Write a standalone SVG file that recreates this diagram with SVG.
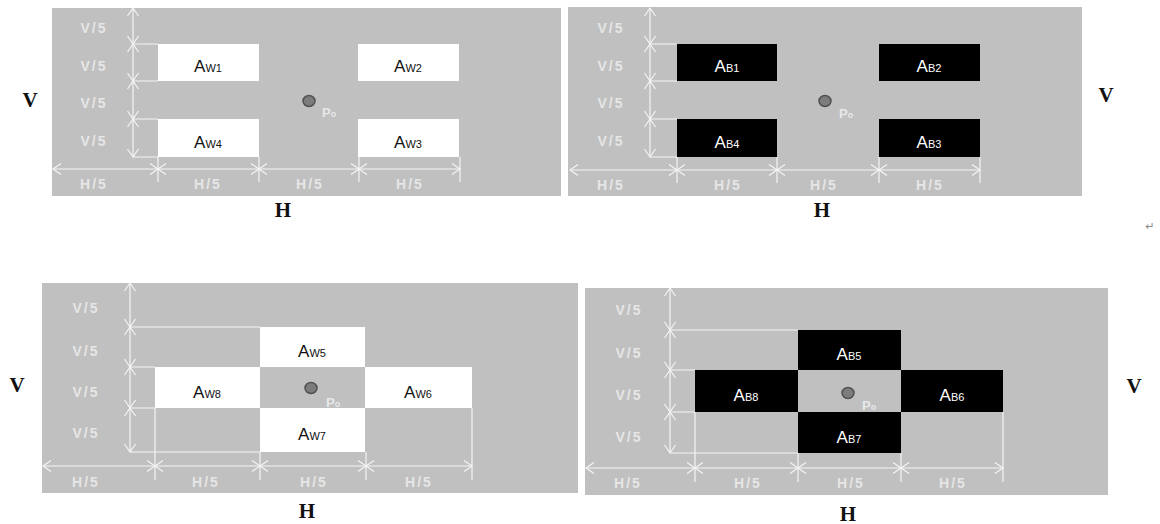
<svg xmlns="http://www.w3.org/2000/svg" width="1160" height="524" viewBox="0 0 1160 524">
<style>
.bg{fill:#c0c0c0}
.w{fill:#ffffff}
.b{fill:#000000}
.dl{stroke:#f4f4f4;stroke-width:1.2;fill:none}
.dim{font-family:"Liberation Sans",Arial,sans-serif;font-size:14px;font-weight:bold;fill:#e6e6e6;letter-spacing:2px;text-anchor:middle}
.lab{font-family:"Liberation Sans",Arial,sans-serif;font-size:17px;text-anchor:middle}
.lab tspan.s{font-size:11px}
.lw{fill:#111}
.lb{fill:#fff}
.po{font-family:"Liberation Sans",Arial,sans-serif;font-size:13px;font-weight:bold;fill:#e8e8e8}
.big{font-family:"Liberation Serif","Times New Roman",serif;font-size:21px;font-weight:bold;fill:#111;text-anchor:middle}
.pt{fill:#7c7c7c;stroke:#505050;stroke-width:1.5}
</style>
<defs>
<marker id="ar" markerUnits="userSpaceOnUse" markerWidth="12" markerHeight="14" viewBox="-10 -7 12 14" refX="0" refY="0" orient="auto-start-reverse">
<path d="M-8,-5.5 L0,0 L-8,5.5" fill="none" stroke="#f4f4f4" stroke-width="1.2"/>
</marker>
</defs>

<!-- panel backgrounds -->
<rect class="bg" x="52" y="8" width="509" height="188"/>
<rect class="bg" x="568" y="7" width="514" height="189"/>
<rect class="bg" x="42" y="283" width="536" height="210"/>
<rect class="bg" x="585" y="288" width="523" height="207"/>

<!-- panel 1 nodes -->
<g id="AW1"><rect class="w" x="158" y="44" width="101" height="37"/><text class="lab lw" x="208" y="72">A<tspan class="s">W1</tspan></text></g>
<g id="AW2"><rect class="w" x="358" y="44" width="101" height="37"/><text class="lab lw" x="408" y="72">A<tspan class="s">W2</tspan></text></g>
<g id="AW3"><rect class="w" x="358" y="119" width="101" height="38"/><text class="lab lw" x="408" y="148">A<tspan class="s">W3</tspan></text></g>
<g id="AW4"><rect class="w" x="158" y="119" width="101" height="38"/><text class="lab lw" x="208" y="148">A<tspan class="s">W4</tspan></text></g>
<g id="P0a"><ellipse class="pt" cx="309" cy="101" rx="6" ry="5.5"/><text class="po" x="322" y="117">P<tspan font-size="9">o</tspan></text></g>

<!-- panel 2 nodes -->
<g id="AB1"><rect class="b" x="677" y="44" width="100" height="37"/><text class="lab lb" x="727" y="72">A<tspan class="s">B1</tspan></text></g>
<g id="AB2"><rect class="b" x="879" y="44" width="101" height="37"/><text class="lab lb" x="929" y="72">A<tspan class="s">B2</tspan></text></g>
<g id="AB3"><rect class="b" x="879" y="119" width="101" height="38"/><text class="lab lb" x="929" y="148">A<tspan class="s">B3</tspan></text></g>
<g id="AB4"><rect class="b" x="677" y="119" width="100" height="38"/><text class="lab lb" x="727" y="148">A<tspan class="s">B4</tspan></text></g>
<g id="P0b"><ellipse class="pt" cx="825" cy="101" rx="6" ry="5.5"/><text class="po" x="839" y="118">P<tspan font-size="9">o</tspan></text></g>

<!-- panel 3 nodes -->
<g id="AW5"><rect class="w" x="260" y="327" width="105" height="40"/><text class="lab lw" x="312" y="357">A<tspan class="s">W5</tspan></text></g>
<g id="AW6"><rect class="w" x="365" y="367" width="107" height="41"/><text class="lab lw" x="418" y="398">A<tspan class="s">W6</tspan></text></g>
<g id="AW7"><rect class="w" x="260" y="408" width="105" height="44"/><text class="lab lw" x="312" y="440">A<tspan class="s">W7</tspan></text></g>
<g id="AW8"><rect class="w" x="155" y="367" width="105" height="41"/><text class="lab lw" x="207" y="398">A<tspan class="s">W8</tspan></text></g>
<g id="P0c"><ellipse class="pt" cx="311" cy="388" rx="6" ry="5.5"/><text class="po" x="326" y="407">P<tspan font-size="9">o</tspan></text></g>

<!-- panel 4 nodes -->
<g id="AB5"><rect class="b" x="798" y="330" width="103" height="40"/><text class="lab lb" x="849" y="360">A<tspan class="s">B5</tspan></text></g>
<g id="AB6"><rect class="b" x="901" y="370" width="102" height="42"/><text class="lab lb" x="952" y="401">A<tspan class="s">B6</tspan></text></g>
<g id="AB7"><rect class="b" x="798" y="412" width="103" height="41"/><text class="lab lb" x="849" y="443">A<tspan class="s">B7</tspan></text></g>
<g id="AB8"><rect class="b" x="695" y="370" width="103" height="42"/><text class="lab lb" x="746" y="401">A<tspan class="s">B8</tspan></text></g>
<g id="P0d"><ellipse class="pt" cx="848" cy="393" rx="6" ry="5.5"/><text class="po" x="862" y="410">P<tspan font-size="9">o</tspan></text></g>

<!-- connectors: dimension lines -->
<g id="connectors" class="dl">
<!-- panel 1 -->
<g marker-start="url(#ar)" marker-end="url(#ar)">
<line x1="133" y1="8" x2="133" y2="44"/><line x1="133" y1="44" x2="133" y2="81"/><line x1="133" y1="81" x2="133" y2="119"/><line x1="133" y1="119" x2="133" y2="157"/>
<line x1="53" y1="169" x2="158" y2="169"/><line x1="158" y1="169" x2="259" y2="169"/><line x1="259" y1="169" x2="359" y2="169"/><line x1="359" y1="169" x2="460" y2="169"/>
</g>
<path d="M133,44H158M133,81H158M133,119H158M133,157H158M158,157V182M259,157V182M359,157V182M460,157V182"/>
<!-- panel 2 -->
<g marker-start="url(#ar)" marker-end="url(#ar)">
<line x1="650" y1="8" x2="650" y2="44"/><line x1="650" y1="44" x2="650" y2="81"/><line x1="650" y1="81" x2="650" y2="119"/><line x1="650" y1="119" x2="650" y2="157"/>
<line x1="570" y1="170" x2="677" y2="170"/><line x1="677" y1="170" x2="777" y2="170"/><line x1="777" y1="170" x2="879" y2="170"/><line x1="879" y1="170" x2="980" y2="170"/>
</g>
<path d="M650,44H677M650,81H677M650,119H677M650,157H677M677,157V183M777,157V183M879,157V183M980,157V183"/>
<!-- panel 3 -->
<g marker-start="url(#ar)" marker-end="url(#ar)">
<line x1="130" y1="283" x2="130" y2="327"/><line x1="130" y1="327" x2="130" y2="367"/><line x1="130" y1="367" x2="130" y2="408"/><line x1="130" y1="408" x2="130" y2="452"/>
<line x1="43" y1="466" x2="155" y2="466"/><line x1="155" y1="466" x2="260" y2="466"/><line x1="260" y1="466" x2="366" y2="466"/><line x1="366" y1="466" x2="472" y2="466"/>
</g>
<path d="M130,327H260M130,367H155M130,408H155M130,452H260M155,408V480M260,452V480M366,452V480M472,408V480"/>
<!-- panel 4 -->
<g marker-start="url(#ar)" marker-end="url(#ar)">
<line x1="670" y1="288" x2="670" y2="330"/><line x1="670" y1="330" x2="670" y2="370"/><line x1="670" y1="370" x2="670" y2="412"/><line x1="670" y1="412" x2="670" y2="453"/>
<line x1="586" y1="468" x2="695" y2="468"/><line x1="695" y1="468" x2="798" y2="468"/><line x1="798" y1="468" x2="901" y2="468"/><line x1="901" y1="468" x2="1003" y2="468"/>
</g>
<path d="M670,330H798M670,370H695M670,412H695M670,453H798M695,412V482M798,453V482M901,453V482M1003,412V482"/>
</g>

<!-- dimension labels -->
<g id="dimlabels">
<text class="dim" x="94" y="33">V/5</text><text class="dim" x="94" y="71">V/5</text><text class="dim" x="94" y="108">V/5</text><text class="dim" x="94" y="146">V/5</text>
<text class="dim" x="94" y="189">H/5</text><text class="dim" x="208" y="189">H/5</text><text class="dim" x="310" y="189">H/5</text><text class="dim" x="410" y="189">H/5</text>

<text class="dim" x="611" y="33">V/5</text><text class="dim" x="611" y="71">V/5</text><text class="dim" x="611" y="108">V/5</text><text class="dim" x="611" y="146">V/5</text>
<text class="dim" x="611" y="190">H/5</text><text class="dim" x="728" y="190">H/5</text><text class="dim" x="824" y="190">H/5</text><text class="dim" x="930" y="190">H/5</text>

<text class="dim" x="86" y="313">V/5</text><text class="dim" x="86" y="356">V/5</text><text class="dim" x="86" y="397">V/5</text><text class="dim" x="86" y="438">V/5</text>
<text class="dim" x="86" y="487">H/5</text><text class="dim" x="206" y="487">H/5</text><text class="dim" x="314" y="487">H/5</text><text class="dim" x="419" y="487">H/5</text>

<text class="dim" x="629" y="315">V/5</text><text class="dim" x="629" y="358">V/5</text><text class="dim" x="629" y="400">V/5</text><text class="dim" x="629" y="442">V/5</text>
<text class="dim" x="628" y="488">H/5</text><text class="dim" x="748" y="488">H/5</text><text class="dim" x="851" y="488">H/5</text><text class="dim" x="953" y="488">H/5</text>
</g>

<!-- axis labels -->
<g id="axes">
<text class="big" x="30" y="107">V</text>
<text class="big" x="283" y="217">H</text>
<text class="big" x="1106" y="102">V</text>
<text class="big" x="822" y="217">H</text>
<text class="big" x="17" y="392">V</text>
<text class="big" x="307" y="518">H</text>
<text class="big" x="1134" y="393">V</text>
<text class="big" x="848" y="521">H</text>
</g>
<text x="1150" y="230" font-family="DejaVu Sans,sans-serif" font-size="11" fill="#8a8a8a" text-anchor="middle">↵</text>
</svg>
